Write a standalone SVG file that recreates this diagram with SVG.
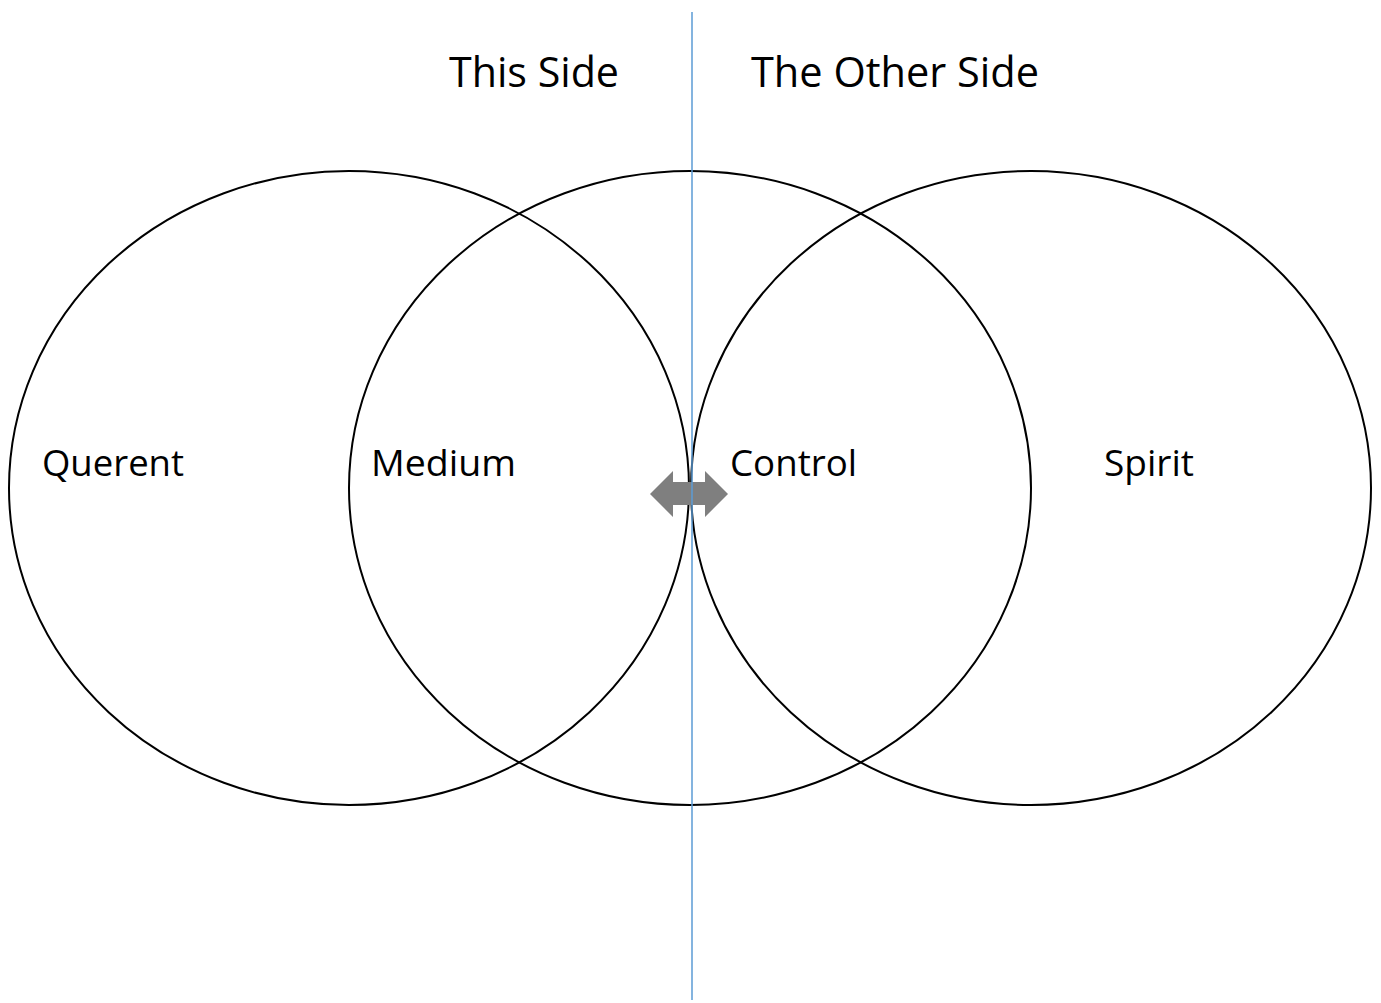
<svg xmlns="http://www.w3.org/2000/svg" width="1381" height="1003" viewBox="0 0 1381 1003">
<style>
.c{fill:none;stroke:#000;stroke-width:2}
.t{font-family:"Open Sans","Liberation Sans",sans-serif;fill:#000}
.lb{font-size:36px}
.hd{font-size:42px}
</style>
<rect width="1381" height="1003" fill="#fff"/>
<g id="querent"><ellipse class="c" cx="349" cy="488" rx="340" ry="317"/><text class="t lb" x="42" y="476" textLength="142" lengthAdjust="spacingAndGlyphs">Querent</text></g>
<g id="medium"><ellipse class="c" cx="690" cy="488" rx="341" ry="317"/><text class="t lb" x="371" y="476" textLength="145" lengthAdjust="spacingAndGlyphs">Medium</text></g>
<g id="control"><ellipse class="c" cx="1031" cy="488" rx="340" ry="317"/><text class="t lb" x="730" y="476" textLength="127" lengthAdjust="spacingAndGlyphs">Control</text></g>
<g id="spirit"><text class="t lb" x="1104" y="476" textLength="90" lengthAdjust="spacingAndGlyphs">Spirit</text></g>
<g id="headings">
<text class="t hd" x="449" y="87" textLength="170" lengthAdjust="spacingAndGlyphs">This Side</text>
<text class="t hd" x="751" y="87" textLength="288" lengthAdjust="spacingAndGlyphs">The Other Side</text>
</g>
<g id="connectors">
<polygon points="650,494 673,471 673,482 705,482 705,471 728,494 705,517 705,505 673,505 673,517" fill="#7f7f7f"/>
<line x1="692" y1="12" x2="692" y2="1000" stroke="#5b9bd5" stroke-width="1.5"/>
</g>
</svg>
